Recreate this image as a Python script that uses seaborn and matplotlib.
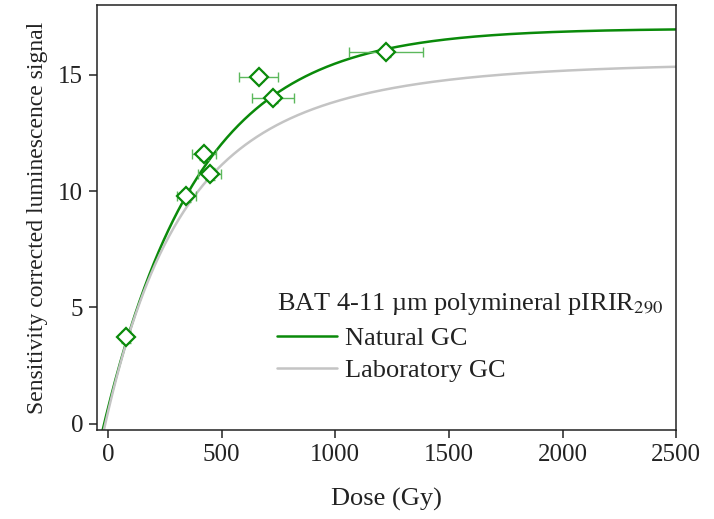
import numpy as np
import pandas as pd
import matplotlib
matplotlib.use("Agg")
import matplotlib.pyplot as plt
import seaborn as sns
from matplotlib.lines import Line2D

# ---- data ----
dose = [80, 345, 422, 448, 663, 727, 1222]
signal = [3.72, 9.80, 11.58, 10.75, 14.93, 14.00, 15.97]
dose_err = [15, 40, 53, 50, 86, 93, 163]
signal_err = [0.25, 0.25, 0.25, 0.25, 0.2, 0.2, 0.2]

# fitted dose-response curve parameters
natural_fit = dict(a=17.0, d=420.0, x0=-17.0)
lab_fit = dict(a1=8.5, d1=260.0, a2=7.0, d2=650.0, x0=-12.0)

xticks = [0, 500, 1000, 1500, 2000, 2500]
yticks = [0, 5, 10, 15]

sns.set_theme(style="ticks")
plt.rcParams['font.family'] = ['Liberation Serif', 'DejaVu Serif']
plt.rcParams['mathtext.fontset'] = 'stix'

fig = plt.figure(figsize=(7.14, 5.19), dpi=100)
ax = fig.add_axes([0.136, 0.1715, 0.811, 0.8185])

xs = np.linspace(-30, 2500, 600)
nat = natural_fit['a'] * (1 - np.exp(-(xs - natural_fit['x0']) / natural_fit['d']))
lab = (lab_fit['a1'] * (1 - np.exp(-(xs - lab_fit['x0']) / lab_fit['d1']))
       + lab_fit['a2'] * (1 - np.exp(-(xs - lab_fit['x0']) / lab_fit['d2'])))
curves = pd.DataFrame({
    'dose': np.concatenate([xs, xs]),
    'signal': np.concatenate([nat, lab]),
    'curve': ['Natural GC'] * len(xs) + ['Laboratory GC'] * len(xs),
})

sns.lineplot(data=curves, x='dose', y='signal', hue='curve',
             palette={'Natural GC': '#0a8a0a', 'Laboratory GC': '#c4c4c4'},
             hue_order=['Natural GC', 'Laboratory GC'],
             linewidth=1.8, ax=ax, legend=False, zorder=2)

ax.errorbar(dose, signal, xerr=dose_err, yerr=signal_err, fmt='none',
            ecolor='#5cb85c', elinewidth=1.0, capsize=3.5, capthick=1.0, zorder=3)
ax.plot(dose, signal, linestyle='none', marker='D', markersize=9.5,
        markerfacecolor='white', markeredgecolor='#0a8a0a', markeredgewidth=1.6,
        zorder=4)

ax.set_xlim(-48, 2500)
ax.set_ylim(-0.27, 18.0)
ax.set_xticks(xticks)
ax.set_yticks(yticks)
ax.tick_params(axis='both', direction='out', length=6, width=1.1,
               labelsize=18, colors='#222222', pad=4)
for s in ax.spines.values():
    s.set_linewidth(1.1)
    s.set_color('#222222')

ax.set_xlabel('Dose (Gy)', fontsize=19, labelpad=16, color='#222222')
ax.set_ylabel('Sensitivity corrected luminescence signal', fontsize=17,
              labelpad=7, color='#222222')

handles = [Line2D([], [], color='#0a8a0a', linewidth=1.8),
           Line2D([], [], color='#c4c4c4', linewidth=1.8)]
leg = ax.legend(handles, ['Natural GC', 'Laboratory GC'],
                title='BAT 4-11 \u00b5m polymineral pIRIR$_{290}$',
                title_fontsize=19, fontsize=19, frameon=False,
                loc='upper left', bbox_to_anchor=(0.31, 0.327),
                alignment='left', handlelength=2.3, handletextpad=0.3,
                labelspacing=0.35, borderpad=0, borderaxespad=0)
for t in leg.get_texts():
    t.set_color('#222222')
leg.get_title().set_color('#222222')

fig.savefig('out.png', dpi=100)
